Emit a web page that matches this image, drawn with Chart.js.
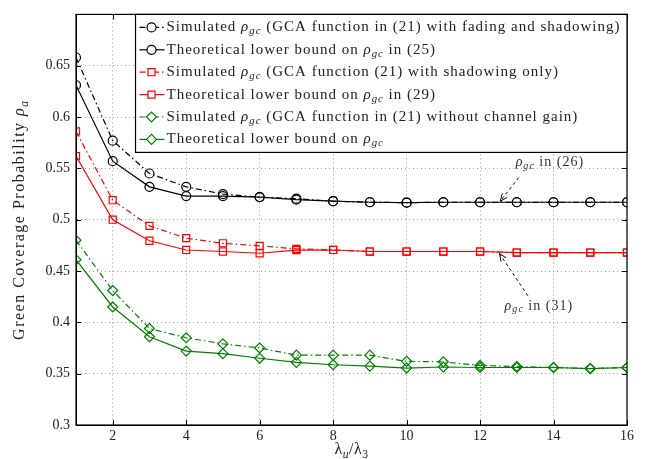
<!DOCTYPE html>
<html>
<head>
<meta charset="utf-8">
<script src="https://cdn.jsdelivr.net/npm/chart.js@4.4.1/dist/chart.umd.min.js"></script>
<style>
  body { margin: 0; background: #fff; }
  #wrap { width: 660px; height: 459px; }
</style>
</head>
<body>
<div id="wrap"><canvas id="myChart" width="660" height="459"></canvas></div>
<script>
// ratio lambda_u / lambda_3
const xVals = [1, 2, 3, 4, 5, 6, 7, 8, 9, 10, 11, 12, 13, 14, 15, 16];
const xTicks = [2, 4, 6, 8, 10, 12, 14, 16];
const yTicks = [0.3, 0.35, 0.4, 0.45, 0.5, 0.55, 0.6, 0.65];

const simFadeShadow = [0.658, 0.577, 0.545, 0.532, 0.525, 0.522, 0.5205, 0.518, 0.517, 0.5166, 0.517, 0.517, 0.517, 0.517, 0.517, 0.517];
const boundEq25     = [0.631, 0.557, 0.532, 0.523, 0.523, 0.522, 0.5195, 0.518, 0.517, 0.5166, 0.517, 0.517, 0.517, 0.517, 0.517, 0.517];
const simShadow     = [0.586, 0.519, 0.494, 0.482, 0.477, 0.4745, 0.4716, 0.4705, 0.469, 0.469, 0.469, 0.469, 0.468, 0.468, 0.468, 0.468];
const boundEq29     = [0.562, 0.500, 0.4795, 0.4705, 0.469, 0.4673, 0.4703, 0.4705, 0.469, 0.469, 0.469, 0.469, 0.468, 0.468, 0.468, 0.468];
const simNoGain     = [0.480, 0.431, 0.394, 0.385, 0.379, 0.375, 0.368, 0.368, 0.368, 0.362, 0.3615, 0.358, 0.357, 0.356, 0.355, 0.356];
const boundNoGain   = [0.461, 0.415, 0.386, 0.372, 0.3695, 0.365, 0.361, 0.3587, 0.3574, 0.3555, 0.3565, 0.356, 0.356, 0.356, 0.355, 0.356];

const serif = "'Liberation Serif', 'DejaVu Serif', serif";
const dashDot = [6, 3, 1.5, 3];

// rich text parts: t = text, it = italic, sub = subscript
const legendRows = [
  { color: '#000', dash: dashDot, style: 'circle', parts: [{t: 'Simulated '}, {t: 'ρ', it: 1}, {t: 'gc', it: 1, sub: 1}, {t: ' (GCA function in (21) with fading and shadowing)'}] },
  { color: '#000', dash: [], style: 'circle', parts: [{t: 'Theoretical lower bound on '}, {t: 'ρ', it: 1}, {t: 'gc', it: 1, sub: 1}, {t: ' in (25)'}] },
  { color: '#ff0000', dash: dashDot, style: 'rect', parts: [{t: 'Simulated '}, {t: 'ρ', it: 1}, {t: 'gc', it: 1, sub: 1}, {t: ' (GCA function (21) with shadowing only)'}] },
  { color: '#ff0000', dash: [], style: 'rect', parts: [{t: 'Theoretical lower bound on '}, {t: 'ρ', it: 1}, {t: 'gc', it: 1, sub: 1}, {t: ' in (29)'}] },
  { color: '#008000', dash: dashDot, style: 'rectRot', parts: [{t: 'Simulated '}, {t: 'ρ', it: 1}, {t: 'gc', it: 1, sub: 1}, {t: ' (GCA function in (21) without channel gain)'}] },
  { color: '#008000', dash: [], style: 'rectRot', parts: [{t: 'Theoretical lower bound on '}, {t: 'ρ', it: 1}, {t: 'gc', it: 1, sub: 1}] }
];
const seriesData = [simFadeShadow, boundEq25, simShadow, boundEq29, simNoGain, boundNoGain];

function drawRich(ctx, parts, x, y, size, align) {
  let w = 0;
  const fonts = parts.map(p => {
    const s = p.sub ? size * 0.72 : size;
    return (p.it ? 'italic ' : '') + s + 'px ' + serif;
  });
  parts.forEach((p, i) => { ctx.font = fonts[i]; w += ctx.measureText(p.t).width; });
  let cx = align === 'center' ? x - w / 2 : x;
  parts.forEach((p, i) => {
    ctx.font = fonts[i];
    ctx.fillText(p.t, cx, p.sub ? y + size * 0.28 : y);
    cx += ctx.measureText(p.t).width;
  });
  return w;
}

function arrow(ctx, x1, y1, x2, y2) {
  ctx.save();
  ctx.strokeStyle = '#000';
  ctx.lineWidth = 1;
  ctx.setLineDash([3, 3]);
  ctx.beginPath(); ctx.moveTo(x1, y1); ctx.lineTo(x2, y2); ctx.stroke();
  ctx.setLineDash([]);
  const a = Math.atan2(y2 - y1, x2 - x1);
  ctx.beginPath();
  ctx.moveTo(x2 - 8 * Math.cos(a - 0.4), y2 - 8 * Math.sin(a - 0.4));
  ctx.lineTo(x2, y2);
  ctx.lineTo(x2 - 8 * Math.cos(a + 0.4), y2 - 8 * Math.sin(a + 0.4));
  ctx.stroke();
  ctx.restore();
}

const decor = {
  id: 'decor',
  afterDraw(chart) {
    const ctx = chart.ctx;
    const a = chart.chartArea;
    const xs = chart.scales.x, ys = chart.scales.y;
    ctx.save();

    // box round the axes
    ctx.strokeStyle = '#000';
    ctx.lineWidth = 1.2;
    ctx.strokeRect(a.left, a.top, a.right - a.left, a.bottom - a.top);

    // inward tick marks
    ctx.lineWidth = 1;
    ctx.beginPath();
    yTicks.forEach(v => {
      const py = Math.round(ys.getPixelForValue(v)) + 0.5;
      ctx.moveTo(a.left, py); ctx.lineTo(a.left + 5, py);
      ctx.moveTo(a.right, py); ctx.lineTo(a.right - 5, py);
    });
    xTicks.forEach(v => {
      const px = Math.round(xs.getPixelForValue(v)) + 0.5;
      ctx.moveTo(px, a.bottom); ctx.lineTo(px, a.bottom - 5);
      ctx.moveTo(px, a.top); ctx.lineTo(px, a.top + 5);
    });
    ctx.stroke();

    // legend
    const lx = xs.getPixelForValue(2.62), rowH = 22.4;
    const ly = a.top;
    ctx.fillStyle = '#fff';
    ctx.fillRect(lx, ly, a.right - lx, 138);
    ctx.strokeStyle = '#000';
    ctx.lineWidth = 1.2;
    ctx.strokeRect(lx, ly, a.right - lx, 138);
    ctx.textBaseline = 'middle';
    legendRows.forEach((r, i) => {
      const cy = ly + 13 + i * rowH;
      ctx.strokeStyle = r.color;
      ctx.lineWidth = 1.2;
      ctx.setLineDash(r.dash);
      ctx.beginPath(); ctx.moveTo(lx + 4, cy); ctx.lineTo(lx + 29, cy); ctx.stroke();
      ctx.setLineDash([]);
      ctx.fillStyle = '#fff';
      Chart.helpers.drawPoint(ctx, { pointStyle: r.style, radius: r.style === 'circle' ? 4.5 : 5, borderWidth: 1.2 }, lx + 16, cy);
      ctx.fillStyle = '#222';
      ctx.letterSpacing = '1px';
      drawRich(ctx, r.parts, lx + 31, cy, 15);
      ctx.letterSpacing = '0px';
    });

    // annotations
    ctx.fillStyle = '#333';
    ctx.letterSpacing = '1px';
    const rho = (tail) => [{t: 'ρ', it: 1}, {t: 'gc', it: 1, sub: 1}, {t: tail}];
    drawRich(ctx, rho(' in (26)'), xs.getPixelForValue(13.9), ys.getPixelForValue(0.556), 14, 'center');
    drawRich(ctx, rho(' in (31)'), xs.getPixelForValue(13.6), ys.getPixelForValue(0.416), 14, 'center');
    ctx.letterSpacing = '0px';
    arrow(ctx, xs.getPixelForValue(13.05), ys.getPixelForValue(0.541), xs.getPixelForValue(12.55), ys.getPixelForValue(0.518));
    arrow(ctx, xs.getPixelForValue(13.3), ys.getPixelForValue(0.426), xs.getPixelForValue(12.53), ys.getPixelForValue(0.467));

    // axis titles
    ctx.fillStyle = '#222';
    ctx.letterSpacing = '0.5px';
    drawRich(ctx, [{t: 'λ'}, {t: 'u', it: 1, sub: 1}, {t: '/λ'}, {t: '3', sub: 1}], (a.left + a.right) / 2, 450, 16, 'center');
    ctx.letterSpacing = '1.5px';
    ctx.translate(20, (a.top + a.bottom) / 2);
    ctx.rotate(-Math.PI / 2);
    drawRich(ctx, [{t: 'Green Coverage Probability '}, {t: 'ρ', it: 1}, {t: 'a', it: 1, sub: 1}], 0, 0, 16, 'center');
    ctx.restore();
  }
};

const styles = ['circle', 'circle', 'rect', 'rect', 'rectRot', 'rectRot'];
const colors = ['#000', '#000', '#ff0000', '#ff0000', '#008000', '#008000'];

const datasets = seriesData.map((arr, i) => ({
  data: arr.map((v, j) => ({ x: xVals[j], y: v })),
  borderColor: colors[i],
  backgroundColor: 'rgba(0,0,0,0)',
  borderWidth: 1.2,
  borderDash: i % 2 === 0 ? dashDot : [],
  pointStyle: styles[i],
  pointRadius: styles[i] === 'circle' ? 4.5 : 5,
  pointBorderWidth: 1.2,
  pointBorderColor: colors[i],
  pointBackgroundColor: 'rgba(0,0,0,0)',
  tension: 0
}));

const tickFont = { family: serif, size: 14 };

new Chart(document.getElementById('myChart'), {
  type: 'line',
  data: { datasets },
  options: {
    responsive: false,
    animation: false,
    devicePixelRatio: 1,
    layout: { padding: { left: 0, right: 33, top: 10, bottom: 0 } },
    plugins: { legend: { display: false }, tooltip: { enabled: false } },
    scales: {
      x: {
        type: 'linear',
        min: 1, max: 16,
        afterFit: s => { s.height = 34; },
        afterBuildTicks: s => { s.ticks = xTicks.map(v => ({ value: v })); },
        grid: { color: '#9a9a9a', lineWidth: 1, drawTicks: false },
        border: { display: true, color: '#000', dash: [1, 3] },
        ticks: { color: '#222', font: tickFont, padding: 3, maxRotation: 0, callback: v => String(v) }
      },
      y: {
        min: 0.3, max: 0.7,
        afterFit: s => { s.width = 76; },
        afterBuildTicks: s => { s.ticks = yTicks.concat([0.7]).map(v => ({ value: v })); },
        grid: { color: '#9a9a9a', lineWidth: 1, drawTicks: false },
        border: { display: true, color: '#000', dash: [1, 3] },
        ticks: { color: '#222', font: tickFont, padding: 6, callback: v => (Math.abs(v - 0.7) < 1e-6 ? '' : String(+v.toFixed(2))) }
      }
    }
  },
  plugins: [decor]
});
</script>
</body>
</html>
